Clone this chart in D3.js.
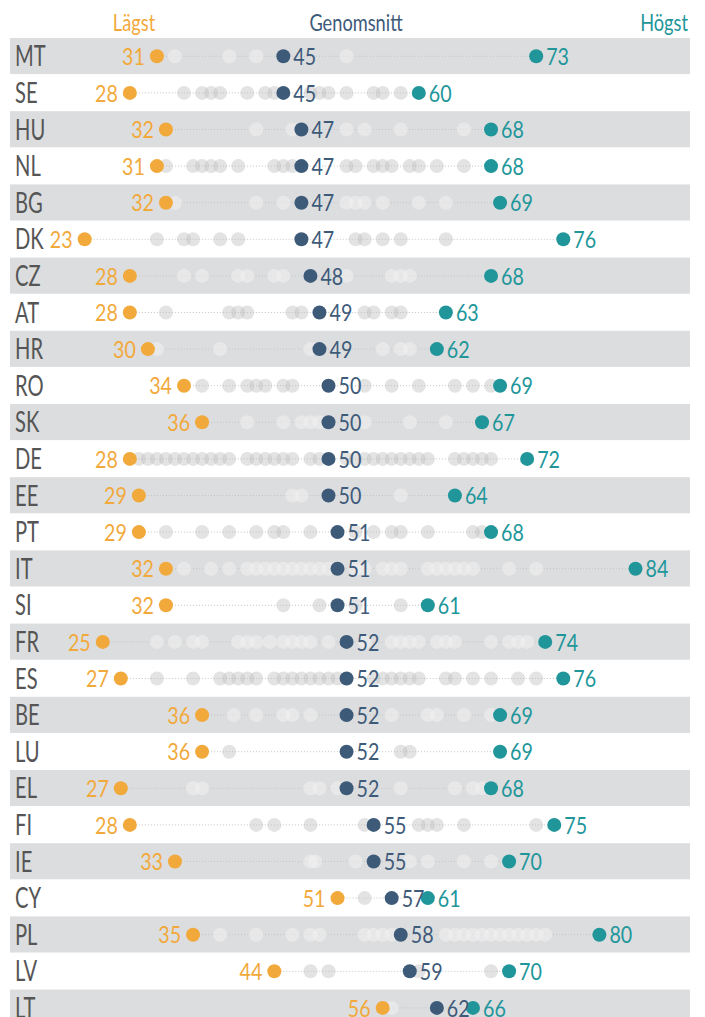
<!DOCTYPE html>
<html>
<head>
<meta charset="utf-8">
<script src="https://cdn.jsdelivr.net/npm/d3@7"></script>
<style>
  body { margin: 0; background: #fff; }
  text { font-family: Lato, "DejaVu Sans Condensed", sans-serif; font-weight: 400; }
</style>
</head>
<body>
<div id="chart"></div>
<script>
const countries = ['MT','SE','HU','NL','BG','DK','CZ','AT','HR','RO','SK','DE','EE','PT','IT','SI','FR','ES','BE','LU','EL','FI','IE','CY','PL','LV','LT'];
const lowest  = [31,28,32,31,32,23,28,28,30,34,36,28,29,29,32,32,25,27,36,36,27,28,33,51,35,44,56];
const average = [45,45,47,47,47,47,48,49,49,50,50,50,50,51,51,51,52,52,52,52,52,55,55,57,58,59,62];
const highest = [73,60,68,68,69,76,68,63,62,69,67,72,64,68,84,61,74,76,69,69,68,75,70,61,80,70,66];

// regionala värden (grå punkter)
const regions = [
  [33,39,42,52],
  [34,36,37,38,41,43,44,48,49,50,52,55,56,58],
  [42,46,52,54,58,65],
  [32,35,36,37,38,40,44,45,46,52,53,55,56,57,59,60,62,65],
  [33,42,45,52,53,54,56,60,63],
  [31,34,35,38,40,53,54,56,58,63],
  [34,36,40,41,44,45,52,57,58,59],
  [32,39,40,41,46,47,54,55,57,58],
  [31,38,48,56,58,59],
  [36,39,41,42,43,45,46,54,57,60,64,66,68],
  [41,45,47,48,49,54,59,63],
  [29,30,31,32,33,34,35,36,37,38,39,41,42,43,44,45,46,48,49,52,53,54,55,56,57,58,59,60,61,64,65,66,67,68],
  [46,47,58],
  [32,36,39,42,44,45,48,53,55,57,58,61,66,67],
  [34,37,39,41,42,43,44,45,46,47,48,49,50,53,54,56,57,58,61,62,63,64,65,66,70,73],
  [45,49,53,58],
  [31,33,35,36,40,41,42,43.5,45,46,47,48,50,54,57,58,59,60,62,63,64,68,70,71,72],
  [31,35,38,39,40,41,42,44,45,46,47,48,49,50,51,55,56,57,58,59,60,63,64,66,68,71,73],
  [39.5,42,45,46,48,57,61,62,65,68],
  [39,58,59],
  [35,36,48,49,51,58,64,66,67],
  [42,44,48,54,60,61,62,65,73],
  [48,48.5,53,59,61,65,68],
  [54],
  [38,42,46,48,49,54,55,56,57,63,64,65,66,67,68,69,70,71,72,73,74],
  [48,50,60,68],
  [57]
];

const headers = ['Lägst', 'Genomsnitt', 'Högst'];

const colors = { low: '#f2a93b', avg: '#3e5a79', high: '#21969a', code: '#555' };

const width = 705, height = 1017;
const r = 7;

const svg = d3.select('#chart').append('svg')
  .attr('width', width)
  .attr('height', height);

const x = d3.scaleLinear().domain([0, 100]).range([-123, 780]);
const y = d3.scaleBand().domain(countries).range([38, 38 + countries.length * 36.6]);

const rows = countries.map((c, i) => ({
  code: c, low: lowest[i], avg: average[i], high: highest[i], regions: regions[i], i
}));

// text med horisontell komprimering (smalt typsnitt)
function label(sel, px, py, size, sx, color, anchor, str) {
  return sel.append('text')
    .attr('transform', `translate(${px},${py}) scale(${sx},1)`)
    .attr('dy', py === 0 ? '0.36em' : null)
    .attr('text-anchor', anchor)
    .attr('font-size', size)
    .attr('fill', color)
    .text(str);
}

// rubriker
label(svg, 134, 31, 24, 0.76, colors.low, 'middle', headers[0]);
label(svg, 356, 31, 24, 0.76, colors.avg, 'middle', headers[1]);
label(svg, 688, 31, 24, 0.76, colors.high, 'end', headers[2]);

const row = svg.selectAll('g.row')
  .data(rows)
  .enter()
  .append('g')
  .attr('class', 'row')
  .attr('transform', (d) => `translate(0,${y(d.code) + y.bandwidth() / 2})`);

row.filter((d) => d.i % 2 === 0)
  .append('rect')
  .attr('x', 10)
  .attr('y', -y.bandwidth() / 2)
  .attr('width', 680)
  .attr('height', y.bandwidth() - 0.5)
  .attr('fill', '#dcdddf');

row.append('line')
  .attr('x1', (d) => x(d.low))
  .attr('x2', (d) => x(d.high))
  .attr('stroke', '#c4c4c4')
  .attr('stroke-width', 1)
  .attr('stroke-dasharray', '1,2');

row.each(function (d) {
  const g = d3.select(this);
  const shaded = d.i % 2 === 0;
  g.selectAll('circle.reg')
    .data(d.regions)
    .enter()
    .append('circle')
    .attr('class', 'reg')
    .attr('cx', (v) => x(v))
    .attr('r', r)
    .attr('fill', shaded ? '#f0f0f0' : '#c2c2c2')
    .attr('fill-opacity', shaded ? 0.6 : 0.45);

  label(g, 15, 0, 28, 0.72, colors.code, 'start', d.code);

  g.append('circle').attr('cx', x(d.low)).attr('r', r).attr('fill', colors.low);
  g.append('circle').attr('cx', x(d.avg)).attr('r', r).attr('fill', colors.avg);
  g.append('circle').attr('cx', x(d.high)).attr('r', r).attr('fill', colors.high);

  label(g, x(d.low) - 12, 0, 24, 0.82, colors.low, 'end', d.low);
  label(g, x(d.avg) + 10, 0, 24, 0.82, colors.avg, 'start', d.avg);
  label(g, x(d.high) + 10, 0, 24, 0.82, colors.high, 'start', d.high);
});
</script>
</body>
</html>
